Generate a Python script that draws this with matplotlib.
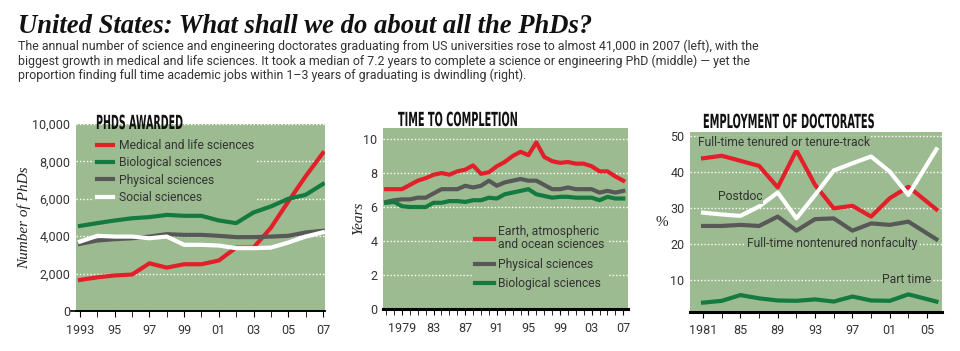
import matplotlib
matplotlib.use("Agg")
import matplotlib.pyplot as plt
from matplotlib.patheffects import AbstractPathEffect
from matplotlib.transforms import Affine2D
from matplotlib.ticker import FuncFormatter, FixedLocator

label_font = "Roboto"


class Squeeze(AbstractPathEffect):
    """Draw text horizontally condensed (no condensed face installed)."""

    def __init__(self, sx, centre=False):
        super().__init__()
        self.sx = sx
        self.centre = centre

    def draw_path(self, renderer, gc, tpath, affine, rgbFace=None):
        cx = 0
        if self.centre:
            ext = tpath.get_extents()
            cx = (ext.x0 + ext.x1) / 2
        squeeze = Affine2D().translate(-cx, 0).scale(self.sx, 1).translate(cx, 0)
        renderer.draw_path(gc, tpath, squeeze + affine, rgbFace)


# ---- data: PhDs awarded ----
years_a = list(range(1993, 2008))
medical = [1660, 1800, 1900, 1950, 2550, 2320, 2500, 2500, 2700, 3390, 3390, 4450, 5850, 7200, 8450]
biological = [4550, 4700, 4840, 4960, 5020, 5140, 5090, 5090, 4840, 4700, 5270, 5590, 6000, 6210, 6790]
physical = [3590, 3770, 3840, 3890, 3980, 4110, 4070, 4070, 4020, 3950, 3950, 3980, 4020, 4200, 4290]
social = [3710, 4020, 3980, 3980, 3890, 3980, 3540, 3540, 3500, 3360, 3360, 3390, 3660, 3980, 4210]
labels_a = ["Medical and life sciences", "Biological sciences", "Physical sciences", "Social sciences"]
xticks_a = [1993, 1995, 1997, 1999, 2001, 2003, 2005, 2007]
xticklabels_a = ["1993", "95", "97", "99", "01", "03", "05", "07"]

# ---- data: time to completion ----
years_b = list(range(1977, 2008))
earth = [7.05, 7.05, 7.05, 7.3, 7.55, 7.7, 7.9, 8.0, 7.9, 8.1, 8.2, 8.45, 7.95, 8.05, 8.4, 8.65,
         9.0, 9.25, 9.05, 9.8, 8.95, 8.7, 8.6, 8.65, 8.55, 8.55, 8.4, 8.1, 8.1, 7.8, 7.55]
phys_time = [6.3, 6.4, 6.45, 6.45, 6.55, 6.55, 6.8, 7.05, 7.05, 7.05, 7.25, 7.15, 7.25, 7.55, 7.25, 7.45,
             7.55, 7.65, 7.55, 7.55, 7.3, 7.05, 7.05, 7.15, 7.05, 7.05, 7.05, 6.85, 6.95, 6.85, 6.95]
bio_time = [6.25, 6.3, 6.05, 6.0, 6.0, 6.0, 6.25, 6.25, 6.35, 6.35, 6.3, 6.4, 6.4, 6.55, 6.5, 6.75,
            6.85, 6.95, 7.05, 6.75, 6.65, 6.55, 6.6, 6.6, 6.55, 6.55, 6.55, 6.4, 6.6, 6.5, 6.5]
labels_b = ["Earth, atmospheric\nand ocean sciences", "Physical sciences", "Biological sciences"]
xticks_b = [1979, 1983, 1987, 1991, 1995, 1999, 2003, 2007]
xticklabels_b = ["1979", "83", "87", "91", "95", "99", "03", "07"]

# ---- data: employment of doctorates ----
years_c = [1981, 1983, 1985, 1987, 1989, 1991, 1993, 1995, 1997, 1999, 2001, 2003, 2006]
tenured = [43.8, 44.5, 43.1, 41.7, 35.7, 46.0, 36.4, 29.9, 30.6, 27.6, 32.7, 35.9, 29.6]
postdoc = [28.7, 28.2, 27.8, 30.4, 34.3, 27.1, 33.6, 40.4, 42.4, 44.3, 40.1, 33.6, 46.3]
nonfaculty = [25.0, 25.0, 25.3, 25.0, 27.6, 23.7, 26.9, 27.1, 23.7, 25.7, 25.3, 26.2, 21.3]
part_time = [3.7, 4.2, 5.8, 4.9, 4.3, 4.2, 4.6, 4.0, 5.4, 4.3, 4.2, 6.0, 4.0]
labels_c = ["Full-time tenured or tenure-track", "Postdoc", "Full-time nontenured nonfaculty", "Part time"]
xticks_c = [1981, 1985, 1989, 1993, 1997, 2001, 2005]
xticklabels_c = ["1981", "85", "89", "93", "97", "01", "05"]

BG = "#9dbb91"
RED = "#e3202a"
GREEN = "#147a40"
GREY = "#585858"
WHITE = "#ffffff"
TXT = "#333333"
LW = 3.0

W, H = 960, 351
fig = plt.figure(figsize=(W / 100, H / 100), dpi=100)
renderer = fig.canvas.get_renderer()


def box(x0, x1, y0, y1):
    # pixel box -> figure fraction
    return [x0 / W, 1 - y1 / H, (x1 - x0) / W, (y1 - y0) / H]


def style(ax, spine_w):
    ax.set_facecolor(BG)
    for s in ["top", "right", "left"]:
        ax.spines[s].set_visible(False)
    ax.spines["bottom"].set_linewidth(spine_w)
    ax.spines["bottom"].set_color("black")
    ax.tick_params(axis="y", length=0, labelsize=9, labelcolor=TXT, pad=4)
    ax.tick_params(axis="x", which="both", direction="out", length=4, color="black",
                   labelsize=9, labelcolor=TXT, pad=5)
    ax.grid(axis="y", color="white", linestyle=(0, (1, 1.5)), linewidth=1)
    ax.set_axisbelow(True)
    for t in ax.get_xticklabels() + ax.get_yticklabels():
        t.set_fontfamily(label_font)


def panel_title(x0, x1, y, s, centre=False):
    # bold heading, condensed to the width it takes in the original
    xpos = (x0 + x1) / 2 if centre else x0
    t = fig.text(xpos / W, 1 - y / H, s, fontfamily="DejaVu Sans",
                 fontweight="bold", fontsize=14, color="#111111",
                 ha="center" if centre else "left", va="baseline")
    w = t.get_window_extent(renderer).width
    t.set_path_effects([Squeeze((x1 - x0) / w, centre)])


# ---------- panel 1 ----------
ax1 = fig.add_axes(box(76, 325, 124, 311))
ax1.plot(years_a, medical, color=RED, lw=LW, label=labels_a[0])
ax1.plot(years_a, biological, color=GREEN, lw=LW, label=labels_a[1])
ax1.plot(years_a, physical, color=GREY, lw=LW, label=labels_a[2])
ax1.plot(years_a, social, color=WHITE, lw=LW, label=labels_a[3])
ax1.set_xlim(1992.77, 2007.12)
ax1.set_ylim(0, 10000)
ax1.set_yticks(range(0, 10001, 2000))
ax1.yaxis.set_major_formatter(FuncFormatter(lambda v, p: f"{int(v):,}"))
ax1.set_xticks(xticks_a)
ax1.set_xticklabels(xticklabels_a)
ax1.xaxis.set_minor_locator(FixedLocator(years_a))
style(ax1, 1.2)
ax1.axhline(0, xmin=-0.02, xmax=1, color="black", lw=1.2, clip_on=False)
ax1.set_ylabel("Number of PhDs", fontfamily="Liberation Serif", fontstyle="italic",
               fontsize=11, color="#222222", labelpad=1)
leg1 = ax1.legend(loc="upper left", bbox_to_anchor=(0.05, 0.965), frameon=True,
                  facecolor=BG, edgecolor="none", framealpha=1, fancybox=False,
                  handlelength=1.3, handletextpad=0.5, labelspacing=0.36, borderpad=0.2,
                  prop={"family": label_font, "size": 8.7})
for t in leg1.get_texts():
    t.set_color(TXT)
panel_title(96, 183, 129, "PHDS AWARDED")

# ---------- panel 2 ----------
ax2 = fig.add_axes(box(383, 628, 128, 309))
ax2.plot(years_b, earth, color=RED, lw=LW, label=labels_b[0])
ax2.plot(years_b, phys_time, color=GREY, lw=LW, label=labels_b[1])
ax2.plot(years_b, bio_time, color=GREEN, lw=LW, label=labels_b[2])
ax2.set_xlim(1976.6, 2007.6)
ax2.set_ylim(0, 10.65)
ax2.set_yticks(range(0, 11, 2))
ax2.set_xticks(xticks_b)
ax2.set_xticklabels(xticklabels_b)
ax2.xaxis.set_minor_locator(FixedLocator(years_b))
style(ax2, 2.2)
ax2.set_ylabel("Years", fontfamily="Liberation Serif", fontstyle="italic",
               fontsize=11, color="#222222", labelpad=-1)
leg2 = ax2.legend(loc="upper left", bbox_to_anchor=(0.34, 0.51), frameon=True,
                  facecolor=BG, edgecolor="none", framealpha=1, fancybox=False,
                  handlelength=1.6, handletextpad=0.35, labelspacing=0.55, borderpad=0.2,
                  prop={"family": label_font, "size": 8.7})
for t in leg2.get_texts():
    t.set_color(TXT)
    t.set_linespacing(1.0)
panel_title(398, 518, 126, "TIME TO COMPLETION")

# ---------- panel 3 ----------
ax3 = fig.add_axes(box(690, 942, 132, 312))
ax3.plot(years_c, tenured, color=RED, lw=LW)
ax3.plot(years_c, postdoc, color=WHITE, lw=LW)
ax3.plot(years_c, nonfaculty, color=GREY, lw=LW)
ax3.plot(years_c, part_time, color=GREEN, lw=LW)
ax3.set_xlim(1979.6, 2006.6)
ax3.set_ylim(1.1, 51.1)
ax3.set_yticks(range(10, 51, 10))
ax3.set_xticks(xticks_c)
ax3.set_xticklabels(xticklabels_c)
ax3.xaxis.set_minor_locator(FixedLocator(range(1981, 2006, 2)))
style(ax3, 2.2)
ax3.set_ylabel("%", rotation=0, fontfamily="Liberation Serif", fontsize=11,
               color="#222222", labelpad=6, va="center")
lab_kw = dict(fontfamily=label_font, fontsize=8.7, color=TXT, va="center",
              bbox=dict(facecolor=BG, edgecolor="none", pad=0.5))
ax3.text(1980.5, 48.1, labels_c[0], **lab_kw)
ax3.text(1982.6, 33.1, labels_c[1], **lab_kw)
ax3.text(1985.7, 20.2, labels_c[2], **lab_kw)
ax3.text(2000.2, 10.0, labels_c[3], **lab_kw)
panel_title(703, 875, 128, "EMPLOYMENT OF DOCTORATES", centre=True)

# ---------- headline ----------
fig.text(18 / W, 1 - 33 / H, "United States: What shall we do about all the PhDs?",
         fontfamily="Liberation Serif", fontstyle="italic", fontweight="bold",
         fontsize=19.2, color="#111111", va="baseline")
sub = ("The annual number of science and engineering doctorates graduating from US universities rose to almost 41,000 in 2007 (left), with the\n"
       "biggest growth in medical and life sciences. It took a median of 7.2 years to complete a science or engineering PhD (middle) \u2014 yet the\n"
       "proportion finding full time academic jobs within 1\u20133 years of graduating is dwindling (right).")
fig.text(18 / W, 1 - 40 / H, sub, fontfamily=label_font, fontsize=8.9,
         color="#333333", va="top", linespacing=1.1)

fig.savefig("out.png", dpi=100)
